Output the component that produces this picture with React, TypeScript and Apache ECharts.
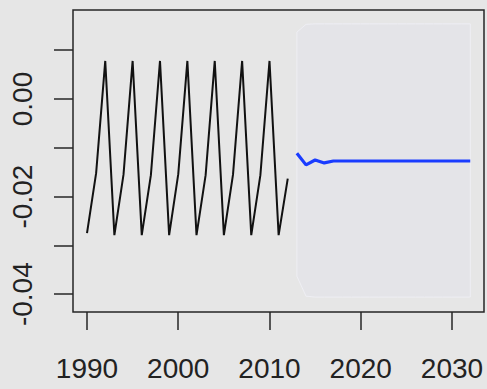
import { useEffect, useRef } from "react";
import * as echarts from "echarts";

// Observed series (annual, 1990–2012)
const histYears = [
  1990, 1991, 1992, 1993, 1994, 1995, 1996, 1997, 1998, 1999, 2000, 2001,
  2002, 2003, 2004, 2005, 2006, 2007, 2008, 2009, 2010, 2011, 2012,
];
const histValues = [
  -0.0275, -0.0152, 0.0078, -0.0279, -0.0155, 0.0078, -0.0279, -0.0156,
  0.0078, -0.0279, -0.0154, 0.0078, -0.0279, -0.0156, 0.0078, -0.0279,
  -0.0155, 0.0078, -0.0279, -0.0156, 0.0078, -0.0279, -0.0163,
];

// Forecast horizon (2013–2032): point forecast and interval bounds
const fcYears = [
  2013, 2014, 2015, 2016, 2017, 2018, 2019, 2020, 2021, 2022, 2023, 2024,
  2025, 2026, 2027, 2028, 2029, 2030, 2031, 2032,
];
const fcMean = [
  -0.0111, -0.0135, -0.0125, -0.0131, -0.0127, -0.0127, -0.0127, -0.0127,
  -0.0127, -0.0127, -0.0127, -0.0127, -0.0127, -0.0127, -0.0127, -0.0127,
  -0.0127, -0.0127, -0.0127, -0.0127,
];
const fcUpper = [
  0.0137, 0.0153, 0.0154, 0.0154, 0.0154, 0.0154, 0.0154, 0.0154, 0.0154,
  0.0154, 0.0154, 0.0154, 0.0154, 0.0154, 0.0154, 0.0154, 0.0154, 0.0154,
  0.0154, 0.0154,
];
const fcLower = [
  -0.0363, -0.0404, -0.0406, -0.0406, -0.0406, -0.0406, -0.0406, -0.0406,
  -0.0406, -0.0406, -0.0406, -0.0406, -0.0406, -0.0406, -0.0406, -0.0406,
  -0.0406, -0.0406, -0.0406, -0.0406,
];

const xTicks = [1990, 2000, 2010, 2020, 2030];
const yTicks = [0.01, 0, -0.01, -0.02, -0.03, -0.04];
const yLabels = [0, -0.02, -0.04];

const FONT = "'Liberation Sans', Arial, Helvetica, sans-serif";
const INK = "#262626";

export default function App() {
  const ref = useRef<HTMLDivElement>(null);

  useEffect(() => {
    if (!ref.current) return;
    const chart = echarts.init(ref.current, undefined, { renderer: "svg" });

    const band = (params: any, api: any) => {
      const top = fcYears.map((y, i) => api.coord([y, fcUpper[i]]));
      const bottom = fcYears
        .map((y, i) => api.coord([y, fcLower[i]]))
        .reverse();
      return {
        type: "polygon",
        shape: { points: top.concat(bottom) },
        style: {
          fill: "#e4e4e8",
          stroke: "rgba(240,240,245,0.9)",
          lineWidth: 1,
        },
      };
    };

    chart.setOption({
      animation: false,
      backgroundColor: "#e6e6e6",
      grid: {
        left: 73,
        top: 10,
        right: 3,
        bottom: 77,
        show: true,
        borderColor: INK,
        borderWidth: 1.5,
        backgroundColor: "transparent",
      },
      xAxis: {
        type: "value",
        min: 1988.466,
        max: 2033.507,
        splitLine: { show: false },
        axisLine: { show: false, onZero: false },
        axisTick: {
          show: true,
          length: 18,
          customValues: xTicks,
          lineStyle: { color: INK, width: 1.5 },
        },
        axisLabel: {
          customValues: xTicks,
          margin: 42,
          fontSize: 28,
          fontFamily: FONT,
          color: "#222",
          formatter: (v: number) => String(v),
        },
      },
      yAxis: {
        type: "value",
        min: -0.04365,
        max: 0.01824,
        splitLine: { show: false },
        axisLine: { show: false, onZero: false },
        axisTick: {
          show: true,
          length: 19,
          customValues: yTicks,
          lineStyle: { color: INK, width: 1.5 },
        },
        axisLabel: {
          customValues: yLabels,
          rotate: 90,
          margin: 37,
          fontSize: 28,
          fontFamily: FONT,
          color: "#222",
          formatter: (v: number) => v.toFixed(2),
        },
      },
      series: [
        {
          type: "custom",
          renderItem: band,
          data: [[fcYears[0], fcMean[0]]],
          silent: true,
          z: 1,
        },
        {
          type: "line",
          data: histYears.map((y, i) => [y, histValues[i]]),
          showSymbol: false,
          lineStyle: { color: "#111", width: 2 },
          z: 3,
        },
        {
          type: "line",
          data: fcYears.map((y, i) => [y, fcMean[i]]),
          showSymbol: false,
          lineStyle: { color: "#1a3cff", width: 3.2 },
          z: 3,
        },
      ],
    });

    return () => chart.dispose();
  }, []);

  return (
    <div
      ref={ref}
      style={{ position: "fixed", left: 0, top: 0, width: 487, height: 389 }}
    />
  );
}
